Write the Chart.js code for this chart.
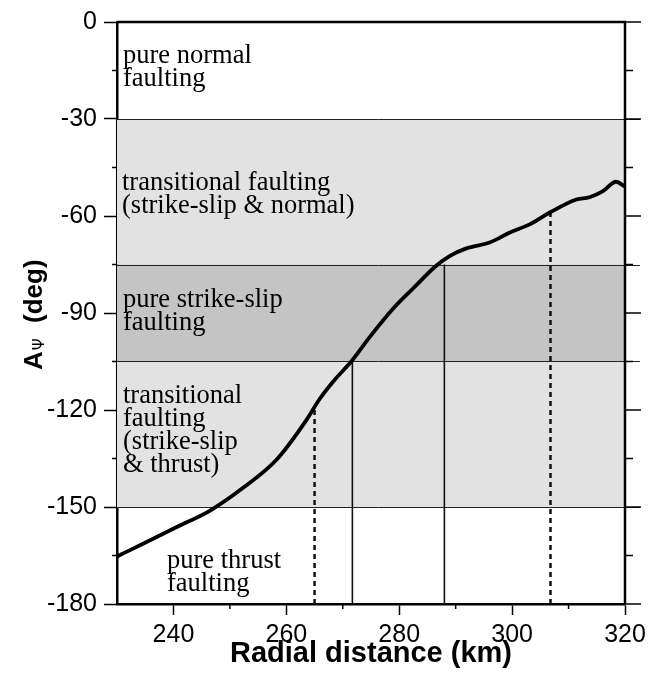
<!DOCTYPE html>
<html>
<head>
<meta charset="utf-8">
<script src="https://cdn.jsdelivr.net/npm/chart.js@4.4.1/dist/chart.umd.min.js"></script>
<style>
  body { margin: 0; background: #fff; }
  #wrap { width: 652px; height: 681px; }
</style>
</head>
<body>
<div id="wrap"><canvas id="azChart" width="652" height="681"></canvas></div>
<script>
// 曲线数据 (km, deg)
var distance = [230, 234.7, 240.6, 246.5, 252.4, 258.3, 263.4, 265.9, 268.5, 271.5, 274.8, 278.9, 282.4,
                286.6, 289, 291.9, 296, 299.6, 303.1, 306.6, 311.4, 313.7, 316.1, 318.4, 319.9];
var azimuth = [-165.3, -161.3, -156.2, -151.1, -144, -135.3, -123.5, -116.6, -110.8, -105, -97.4, -88.7, -82.5,
               -75.3, -72.3, -70, -68.2, -65.1, -62.6, -59, -54.9, -54.2, -52.3, -49.4, -50.8];

// 刻度
var xTicks = [240, 260, 280, 300, 320];
var yTicks = [0, -30, -60, -90, -120, -150, -180];

// 分区 (deg)
var bandFrom = [-30, -75, -105];
var bandTo = [-75, -105, -150];
var bandEdges = [-30, -75, -105, -150];

// 竖线: 实线 / 虚线
var solidX = [271.7, 288];
var solidTop = [-105, -75];
var dashedX = [265, 306.8];
var dashedTop = [-120, -59];

// 区域文字
var regionText = [
    ['pure normal', 'faulting'],
    ['transitional faulting', '(strike-slip & normal)'],
    ['pure strike-slip', 'faulting'],
    ['transitional', 'faulting', '(strike-slip', '& thrust)'],
    ['pure thrust', 'faulting']
];

var bandColors = ['#e2e2e2', '#c4c4c4', '#e2e2e2'];
var textPos = [[123, 63], [122, 190], [123, 307], [123, 403], [167, 568]];

Chart.defaults.color = '#000';
Chart.defaults.font.family = '"Liberation Sans", Arial, sans-serif';

function vline(x, top, dashed) {
    return {
        data: [{x: x, y: -180}, {x: x, y: top}],
        borderColor: '#111',
        borderWidth: dashed ? 2.5 : 1.6,
        borderDash: dashed ? [5, 4] : [],
        pointRadius: 0,
        order: 2
    };
}

var datasets = [{
    data: distance.map(function(d, i) { return {x: d, y: azimuth[i]}; }),
    borderColor: '#000',
    borderWidth: 3.8,
    pointRadius: 0,
    cubicInterpolationMode: 'monotone',
    order: 1
}];
solidX.forEach(function(x, i) { datasets.push(vline(x, solidTop[i], false)); });
dashedX.forEach(function(x, i) { datasets.push(vline(x, dashedTop[i], true)); });

// 背景分区, 文字, 小刻度, 纵轴标题
var decor = {
    id: 'decor',
    beforeDatasetsDraw: function(chart) {
        var ctx = chart.ctx, a = chart.chartArea, ys = chart.scales.y;
        ctx.save();
        bandFrom.forEach(function(v, i) {
            var y1 = ys.getPixelForValue(v), y2 = ys.getPixelForValue(bandTo[i]);
            ctx.fillStyle = bandColors[i];
            ctx.fillRect(a.left, y1, a.right - a.left, y2 - y1);
        });
        ctx.strokeStyle = '#222';
        ctx.lineWidth = 1;
        bandEdges.forEach(function(v) {
            var y = Math.round(ys.getPixelForValue(v)) + 0.5;
            ctx.beginPath();
            ctx.moveTo(a.left, y);
            ctx.lineTo(a.right + 15, y);
            ctx.stroke();
        });
        ctx.fillStyle = '#000';
        ctx.font = '26.5px "Liberation Serif", "Times New Roman", serif';
        ctx.textBaseline = 'alphabetic';
        regionText.forEach(function(lines, i) {
            lines.forEach(function(t, j) {
                ctx.fillText(t, textPos[i][0], textPos[i][1] + j * 23);
            });
        });
        ctx.restore();
    },
    afterDraw: function(chart) {
        var ctx = chart.ctx, a = chart.chartArea, xs = chart.scales.x, ys = chart.scales.y;
        ctx.save();
        ctx.strokeStyle = '#000';
        // 上边框, 右边框
        ctx.lineWidth = 2.5;
        ctx.beginPath();
        ctx.moveTo(a.left, a.top);
        ctx.lineTo(a.right, a.top);
        ctx.lineTo(a.right, a.bottom);
        ctx.stroke();
        // 刻度
        ctx.lineWidth = 1.5;
        for (var v = -180; v <= 0; v += 15) {
            var y = ys.getPixelForValue(v);
            var major = v % 30 === 0;
            ctx.beginPath();
            ctx.moveTo(a.right, y);
            ctx.lineTo(a.right + (major ? 16 : 8), y);
            if (!major) {
                ctx.moveTo(a.left - 5, y);
                ctx.lineTo(a.left, y);
            }
            ctx.stroke();
        }
        [250, 270, 290, 310].forEach(function(d) {
            var x = xs.getPixelForValue(d);
            ctx.beginPath();
            ctx.moveTo(x, a.bottom);
            ctx.lineTo(x, a.bottom + 5);
            ctx.stroke();
        });
        // 纵轴标题 A_Ψ (deg)
        ctx.translate(42, 370);
        ctx.rotate(-Math.PI / 2);
        ctx.fillStyle = '#000';
        ctx.textBaseline = 'alphabetic';
        ctx.font = 'bold 26px "Liberation Sans", Arial, sans-serif';
        ctx.fillText('A', 0, 0);
        var w = ctx.measureText('A').width;
        ctx.font = '15px "DejaVu Sans", sans-serif';
        ctx.fillText('\u03A8', w + 1, 2);
        ctx.font = 'bold 26px "Liberation Sans", Arial, sans-serif';
        ctx.fillText('(deg)', 47, 0);
        ctx.restore();
    }
};

var ctx = document.getElementById('azChart').getContext('2d');
var azChart = new Chart(ctx, {
    type: 'line',
    data: { datasets: datasets },
    plugins: [decor],
    options: {
        responsive: false,
        animation: false,
        layout: { padding: { left: 0, right: 27, top: 18, bottom: 0 } },
        plugins: { legend: { display: false }, tooltip: { enabled: false } },
        scales: {
            x: {
                type: 'linear',
                min: 230,
                max: 320,
                afterFit: function(s) { s.height = 77; },
                grid: {
                    drawOnChartArea: false,
                    tickLength: 11,
                    tickWidth: 1.5,
                    tickColor: function(c) {
                        return c.tick && xTicks.indexOf(c.tick.value) >= 0 ? '#000' : 'rgba(0,0,0,0)';
                    }
                },
                border: { display: true, color: '#000', width: 2.5 },
                ticks: {
                    stepSize: 10,
                    autoSkip: false,
                    maxRotation: 0,
                    padding: 5,
                    font: { size: 25 },
                    callback: function(v) { return xTicks.indexOf(v) >= 0 ? String(v) : ''; }
                },
                title: {
                    display: true,
                    text: 'Radial distance (km)',
                    font: { size: 29, weight: 'bold' },
                    padding: { top: 0, bottom: 10 }
                }
            },
            y: {
                min: -180,
                max: 0,
                afterFit: function(s) { s.width = 117; },
                grid: {
                    drawOnChartArea: false,
                    tickLength: 13,
                    tickWidth: 1.5,
                    tickColor: function(c) {
                        return c.tick && yTicks.indexOf(c.tick.value) >= 0 ? '#000' : 'rgba(0,0,0,0)';
                    }
                },
                border: { display: true, color: '#000', width: 2.5 },
                ticks: {
                    stepSize: 15,
                    autoSkip: false,
                    padding: 7,
                    font: { size: 25 },
                    callback: function(v) { return yTicks.indexOf(v) >= 0 ? String(v) : ''; }
                }
            }
        }
    }
});
</script>
</body>
</html>
